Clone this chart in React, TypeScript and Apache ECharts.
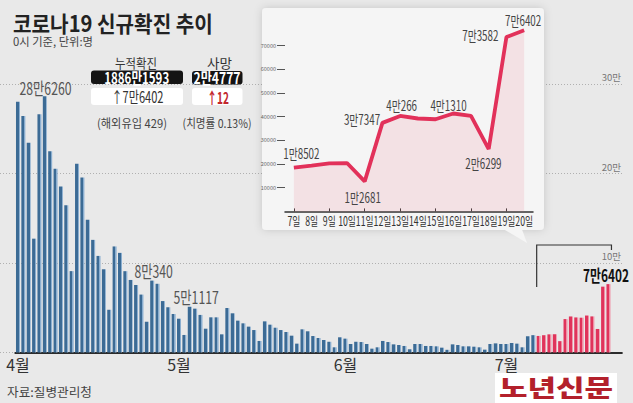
import React, { useEffect, useRef } from 'react';
import * as echarts from 'echarts';

// ---------- data ----------
const MONTHS = [4, 5, 6, 7];
const DAYS_SHOWN = [30, 31, 30, 20];
const aprCases = [280273, 264171, 234301, 127190, 266135, 286260, 224820, 205333, 185566, 164481,
  90928, 210755, 195419, 148443, 125846, 107916, 93001, 47743, 118504, 111319,
  90867, 81058, 75449, 64725, 34370, 80340, 76787, 57464, 50568, 43000];
const mayCases = [37771, 19600, 51117, 49000, 42000, 26600, 39300, 39300, 20300, 49700,
  43800, 35600, 32600, 28900, 25100, 12900, 34800, 31100, 27700, 25100,
  22900, 18800, 9900, 25900, 23700, 18400, 16200, 14000, 12000, 5800, 17000];
const junCases = [15500, 9500, 12000, 11700, 9500, 4300, 5800, 12900, 11700, 9100,
  8400, 7300, 3600, 9500, 9500, 7300, 7300, 6900, 5400, 3000,
  9100, 8400, 6900, 6900, 6500, 5800, 3200, 9500, 10200, 9500];
const julCases = [9500, 10600, 9900, 5800, 18147, 19371,
  18502, 19323, 20286, 20410, 12681, 37347, 40266, 39196, 38882, 41310, 40342, 26299, 73582, 76402];
const labeledDates = ['4/6', '4/26', '5/3', '7/20'];
const highlightStart = '7/7';
const highlightEnd = '7/20';
const insetLabeledDays = ['7일', '11일', '12일', '13일', '16일', '18일', '19일', '20일'];
const gridValues = [100000, 200000, 300000];
const insetTickValues = [10000, 20000, 30000, 40000, 50000, 60000, 70000];
const titleText = '코로나19 신규확진 추이';
const subtitleText = '0시 기준, 단위:명';
const sourceText = '자료:질병관리청';
const logoText = '노년신문';
const stats = {
  totalLabel: '누적확진', total: '1886만1593', totalNew: '↑7만6402', overseas: '(해외유입 429)',
  deathLabel: '사망', deaths: '2만4777', deathsNew: '↑12', fatality: '(치명률 0.13%)',
};

// ---------- derived ----------
const dates: string[] = MONTHS.flatMap((m, i) =>
  Array.from({ length: DAYS_SHOWN[i] }, (_, d) => `${m}/${d + 1}`));
const cases: number[] = [...aprCases, ...mayCases, ...junCases, ...julCases];
const categories = [...dates, ' ', '  '];
const insetStart = dates.indexOf(highlightStart);
const insetDays = dates.slice(insetStart).map((d) => `${d.split('/')[1]}일`);
const insetCases = cases.slice(insetStart);

const fmtMan = (v: number) => `${Math.floor(v / 10000)}만${v % 10000}`;

const KR = "'Noto Sans CJK KR','Noto Sans',sans-serif";

const grad = (dark: string, light: string) =>
  new echarts.graphic.LinearGradient(0, 0, 1, 0, [
    { offset: 0, color: dark }, { offset: 0.7, color: dark },
    { offset: 0.7, color: light }, { offset: 1, color: light },
  ]);

const measureCtx = document.createElement('canvas').getContext('2d')!;
const fitScale = (text: string, size: number, weight: any, target: number) => {
  measureCtx.font = `${weight} ${size}px ${KR}`;
  const w = measureCtx.measureText(text).width;
  return w > 0 ? target / w : 1;
};

export default function App() {
  const ref = useRef<HTMLDivElement>(null);
  useEffect(() => {
    const chart = echarts.init(ref.current!, null, { renderer: 'svg' });
    const blue = grad('#3c6b95', '#8aaed0');
    const red = grad('#e0345b', '#f08fa4');

    // label placement (style), relative to the bar top / line point
    const barLabelPlace: Record<string, any> = {
      '4/6': { dx: 0.7, dy: -9, size: 17, weight: 'normal', color: '#555', sx: 0.72 },
      '4/26': { dx: 1.5, dy: -10.5, size: 17, weight: 'normal', color: '#555', sx: 0.72 },
      '5/3': { dx: 6.4, dy: -10, size: 17, weight: 'normal', color: '#555', sx: 0.72 },
      '7/20': { dx: -2.5, dy: -9.5, size: 16.5, weight: 'bold', color: '#111', sx: 0.72 },
    };
    const insetPlace: Record<string, any> = {
      '7일': { dx: 7.5, dy: -14.5, align: 'center' },
      '11일': { dx: -2, dy: 15, align: 'center' },
      '12일': { dx: -2.3, dy: -4.5, align: 'right' },
      '13일': { dx: 1.5, dy: -11, align: 'center' },
      '16일': { dx: -4.8, dy: -8.5, align: 'center' },
      '18일': { dx: -5.3, dy: 13.6, align: 'center' },
      '19일': { dx: -8, dy: -2, align: 'right' },
      '20일': { dx: -1, dy: -10.3, align: 'center' },
    };

    const barData = cases.map((v, i) => ({ value: v, itemStyle: { color: i >= insetStart ? red : blue } }));
    const barLabelData = labeledDates.map((d) => [dates.indexOf(d), cases[dates.indexOf(d)]]);
    const insetPts = insetCases.map((v, i) => [i, v]);

    const catW = 5.368;
    const option: any = {
      animation: false,
      backgroundColor: '#e9e9e9',
      grid: [
        { left: 15.3, top: 84, width: categories.length * catW, height: 268.5 },
        { left: 0, top: 84, width: 622, height: 268.5 },
        { left: 285, top: 21.8, width: 248, height: 189.6 },
      ],
      xAxis: [
        {
          type: 'category', gridIndex: 0, data: categories,
          axisLine: { lineStyle: { color: '#2b2b2b', width: 2 } },
          axisTick: { show: false },
          axisLabel: {
            interval: (_i: number, v: string) => v.endsWith('/1'),
            formatter: (v: string) => `${v.split('/')[0]}월`,
            fontFamily: KR, fontSize: 16, color: '#333', margin: 3,
          },
        },
        { type: 'value', gridIndex: 1, show: false, min: 0, max: 1 },
        {
          type: 'category', gridIndex: 2, data: insetDays, z: 3,
          axisLine: { lineStyle: { color: '#333', width: 1.5 } },
          axisTick: { show: true, alignWithLabel: true, inside: true, length: 3, lineStyle: { color: '#333' } },
          axisLabel: { show: false },
        },
      ],
      yAxis: [
        { type: 'value', gridIndex: 0, min: 0, max: 300000, show: false, splitLine: { show: false } },
        {
          type: 'value', gridIndex: 1, min: 0, max: 300000, interval: 100000, position: 'right',
          axisLine: { show: false }, axisTick: { show: false },
          splitLine: { show: true, lineStyle: { color: '#b0b0b0', type: [1, 2], width: 1 } },
          axisLabel: {
            inside: true, showMaxLabel: true, customValues: gridValues,
            formatter: (v: number) => `${v / 10000}만`,
            verticalAlign: 'bottom', align: 'right', margin: 1, padding: [0, 0, 2, 0],
            fontFamily: KR, fontSize: 9.5, color: '#777',
          },
        },
        {
          type: 'value', gridIndex: 2, min: 0, max: 80000, interval: 10000, z: 3,
          axisLine: { show: false }, splitLine: { show: false },
          axisTick: { show: true, length: 8, customValues: insetTickValues, lineStyle: { color: '#555' } },
          axisLabel: {
            customValues: insetTickValues, formatter: (v: number) => String(v),
            fontSize: 5.5, color: '#666', margin: 9, fontFamily: KR,
          },
        },
      ],
      series: [
        { type: 'bar', xAxisIndex: 0, yAxisIndex: 0, data: barData, barWidth: 4, z: 2 },
        {
          type: 'custom', xAxisIndex: 0, yAxisIndex: 0, data: barLabelData, z: 6, silent: true,
          renderItem: (_p: any, api: any) => {
            const idx = api.value(0);
            const v = api.value(1);
            const pl = barLabelPlace[dates[idx]];
            const pt = api.coord([idx, v]);
            return {
              type: 'text', x: pt[0] + pl.dx, y: pt[1] + pl.dy, scaleX: pl.sx,
              style: {
                text: fmtMan(v), fill: pl.color, fontSize: pl.size, fontWeight: pl.weight,
                fontFamily: KR, align: 'center', verticalAlign: 'middle',
              },
            };
          },
        },
        {
          type: 'line', xAxisIndex: 2, yAxisIndex: 2, data: insetCases, z: 4,
          symbol: 'none',
          lineStyle: { color: '#e2315a', width: 3.8 },
          areaStyle: { color: 'rgba(235,120,140,0.22)' },
        },
        {
          type: 'custom', xAxisIndex: 2, yAxisIndex: 2, data: insetPts, z: 6, silent: true,
          renderItem: (_p: any, api: any) => {
            const i = api.value(0);
            const v = api.value(1);
            const pt = api.coord([i, v]);
            const base = api.coord([i, 0]);
            const day = insetDays[i];
            const children: any[] = [{
              type: 'text', x: base[0], y: base[1] + 8.8, scaleX: 0.7,
              style: { text: day, fill: '#333', fontSize: 12.5, fontFamily: KR, align: 'center', verticalAlign: 'middle' },
            }];
            if (insetLabeledDays.includes(day)) {
              const pl = insetPlace[day];
              children.push({
                type: 'text', x: pt[0] + pl.dx, y: pt[1] + pl.dy, scaleX: 0.7,
                style: { text: fmtMan(v), fill: '#444', fontSize: 14, fontFamily: KR, align: pl.align, verticalAlign: 'middle' },
              });
            }
            return { type: 'group', children };
          },
        },
      ],
    };
    chart.setOption(option);

    const x0 = chart.convertToPixel({ xAxisIndex: 0 }, highlightStart) as number;
    const x1 = chart.convertToPixel({ xAxisIndex: 0 }, highlightEnd) as number;

    const txt = (text: string, x: number, y: number, size: number, target: number, style: any = {}) => ({
      type: 'text', x, y, z: 6,
      scaleX: fitScale(text, size, style.fontWeight || 'normal', target),
      style: { text, fontFamily: KR, fontSize: size, fill: '#333', align: 'center', verticalAlign: 'middle', ...style },
    });

    chart.setOption({
      graphic: [
        txt(titleText, 13, 22.5, 22, 200, { fontWeight: 'bold', fill: '#222', align: 'left' }),
        txt(subtitleText, 13, 41, 11.5, 80, { fill: '#444', align: 'left' }),
        txt(stats.totalLabel, 136, 62.5, 13, 42),
        { type: 'rect', z: 5, shape: { x: 91, y: 70.5, width: 92, height: 13.5, r: 3 }, style: { fill: '#141414' } },
        txt(stats.total, 136.7, 77.3, 15.5, 65, { fill: '#fff', fontWeight: 'bold' }),
        { type: 'rect', z: 5, shape: { x: 91, y: 88, width: 92, height: 17, r: 3 }, style: { fill: '#fff' } },
        txt(stats.totalNew, 137.5, 96.5, 15.5, 52),
        txt(stats.overseas, 132, 122.5, 12, 70, { fill: '#444' }),
        txt(stats.deathLabel, 219.5, 62.5, 13, 25),
        { type: 'rect', z: 5, shape: { x: 192, y: 71, width: 50.5, height: 13.5, r: 3 }, style: { fill: '#141414' } },
        txt(stats.deaths, 217, 77.8, 15.5, 47, { fill: '#fff', fontWeight: 'bold' }),
        { type: 'rect', z: 5, shape: { x: 192, y: 88, width: 50.5, height: 17, r: 3 }, style: { fill: '#fff' } },
        txt(stats.deathsNew, 218, 96.5, 16, 22, { fill: '#c2272d', fontWeight: 'bold' }),
        txt(stats.fatality, 217, 122.5, 12, 69, { fill: '#444' }),
        {
          type: 'rect', z: 1, shape: { x: 262, y: 8, width: 282, height: 222, r: 4 },
          style: { fill: '#f5f5f5', shadowBlur: 8, shadowColor: 'rgba(0,0,0,0.15)' },
        },
        { type: 'polygon', z: 1, shape: { points: [[504, 229.5], [522, 229.5], [527, 243]] }, style: { fill: '#f5f5f5' } },
        {
          type: 'polyline', z: 5,
          shape: { points: [[x0 - 2, 287], [x0 - 2, 245], [x1 + 3, 245], [x1 + 3, 250]] },
          style: { stroke: '#333', lineWidth: 1.2, fill: 'none' },
        },
        txt(sourceText, 7, 392, 12.5, 85, { fill: '#444', align: 'left' }),
        { type: 'rect', z: 5, shape: { x: 495, y: 373, width: 122, height: 30 }, style: { fill: '#fff' } },
        txt(logoText, 556, 386.5, 23.5, 114, { fontWeight: 900, fill: '#b3202b' }),
      ],
    });
    return () => chart.dispose();
  }, []);
  return <div ref={ref} style={{ position: 'fixed', left: 0, top: 0, width: 633, height: 403 }} />;
}
